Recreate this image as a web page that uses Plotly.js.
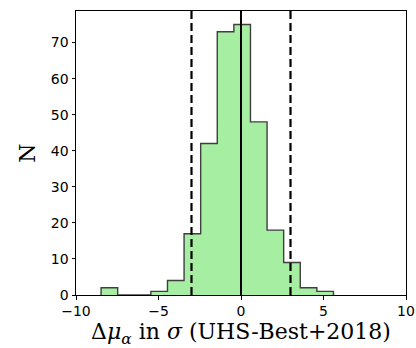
<!DOCTYPE html>
<html>
<head>
<meta charset="utf-8">
<script src="https://cdn.plot.ly/plotly-3.0.1.min.js"></script>
<style>
  html, body { margin: 0; padding: 0; background: #fff; }
  #chart { width: 416px; height: 348px; }
</style>
</head>
<body>
<div id="chart"></div>
<script>
// Histogram of proper-motion differences (in units of sigma)
const binStart = -8.48;
const binWidth = 1.006;
const counts = [2, 0, 0, 1, 4, 17, 42, 73, 75, 48, 18, 9, 2, 1];

// Reference lines: +/-3 sigma (dashed) and zero (solid)
const dashedLines = [-3, 3];
const solidLines = [0];

const xTicks = [-10, -5, 0, 5, 10];
const yTicks = [0, 10, 20, 30, 40, 50, 60, 70];

// Build a stepfilled outline from bin edges and counts
const stepX = [binStart];
const stepY = [0];
counts.forEach((c, i) => {
  const left = binStart + i * binWidth;
  stepX.push(left);
  stepY.push(c);
});
const lastEdge = binStart + counts.length * binWidth;
stepX.push(lastEdge);
stepY.push(0);

const hist = {
  type: 'scatter',
  mode: 'lines',
  x: stepX,
  y: stepY,
  line: { shape: 'hv', color: '#3f3f3f', width: 1.4 },
  fill: 'tozeroy',
  fillcolor: '#a6eea2',
  hoverinfo: 'skip'
};

const shapes = [];
dashedLines.forEach(v => shapes.push({
  type: 'line', xref: 'x', yref: 'paper', x0: v, x1: v, y0: 0, y1: 1,
  line: { color: '#000', width: 2.2, dash: '8px,4px' }
}));
solidLines.forEach(v => shapes.push({
  type: 'line', xref: 'x', yref: 'paper', x0: v, x1: v, y0: 0, y1: 1,
  line: { color: '#000', width: 2 }
}));

const tickFont = { family: 'DejaVu Sans', size: 14, color: '#000' };
const labelFont = { family: 'DejaVu Serif', size: 22, color: '#000' };

const layout = {
  width: 416, height: 348,
  margin: { l: 76, r: 10, t: 11, b: 53 },
  paper_bgcolor: '#fff', plot_bgcolor: '#fff',
  showlegend: false,
  shapes: shapes,
  xaxis: {
    range: [-10, 10],
    tickvals: xTicks,
    ticks: 'outside', ticklen: 3.5, tickwidth: 1, tickcolor: '#000',
    showline: true, linecolor: '#000', linewidth: 1, mirror: true,
    showgrid: false, zeroline: false,
    tickfont: tickFont,
    title: { text: 'Δ<i>μ</i><sub><i>α</i></sub> in <i>σ</i> (UHS-Best+2018)', font: labelFont, standoff: 10 }
  },
  yaxis: {
    range: [0, 78.75],
    tickvals: yTicks,
    ticks: 'outside', ticklen: 3.5, tickwidth: 1, tickcolor: '#000',
    showline: true, linecolor: '#000', linewidth: 1, mirror: true,
    showgrid: false, zeroline: false,
    tickfont: tickFont,
    title: { text: 'N', font: labelFont, standoff: 9 }
  }
};

Plotly.newPlot('chart', [hist], layout, { displayModeBar: false, staticPlot: true });
</script>
</body>
</html>
